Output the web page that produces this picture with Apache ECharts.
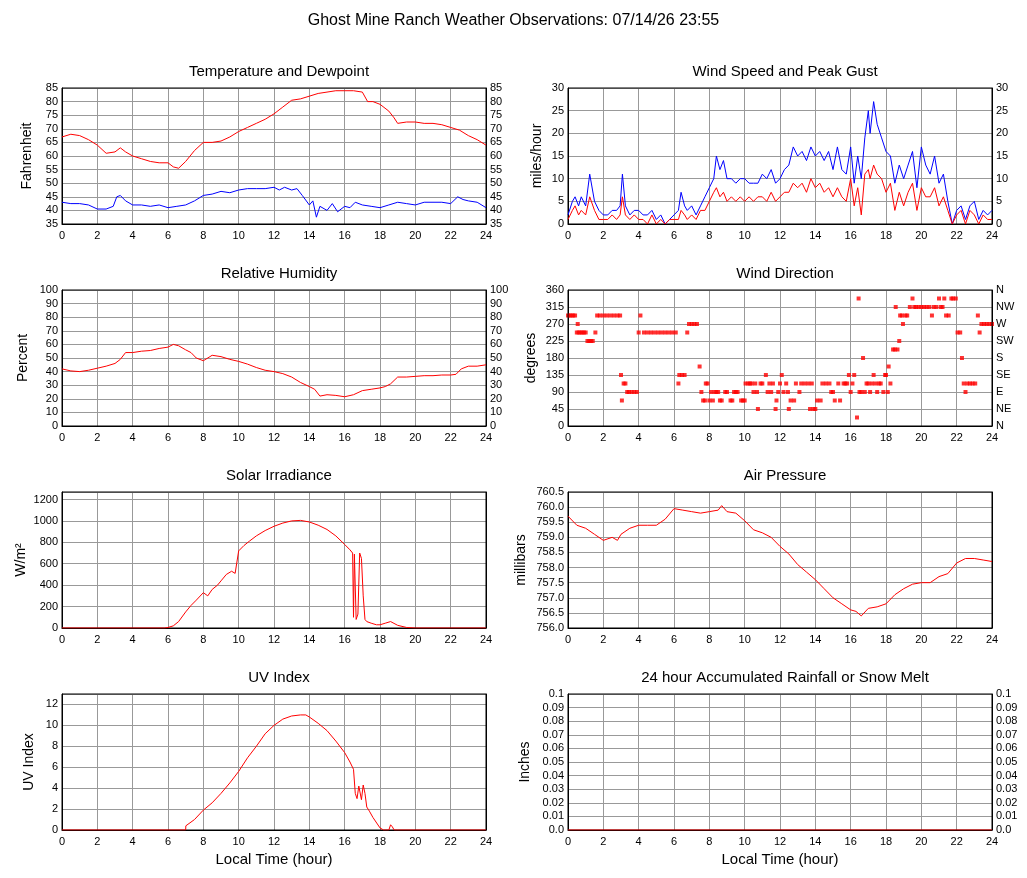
<!DOCTYPE html>
<html><head><meta charset="utf-8">
<script src="https://cdn.jsdelivr.net/npm/echarts@6/dist/echarts.min.js"></script>
<style>html,body{margin:0;background:#fff}#charts{width:1027px;height:878px}</style>
</head><body><div id="charts"></div>
<script>
// temperature / dewpoint
var tempH = [0,0.5,1,1.5,2,2.5,3,3.3,3.6,4,4.5,5,5.5,6,6.3,6.6,7,7.5,8,8.5,9,9.5,10,10.5,11,11.5,12,12.5,13,13.5,14,14.5,15,15.5,16,16.5,17,17.3,17.6,18,18.5,18.8,19,19.5,20,20.5,21,21.5,22,22.5,23,23.5,24];
var tempV = [67,68,67.5,66,64,61,61.5,63,61.5,60,59,58,57.5,57.5,56,55.5,58,62,65,65,65.5,67,69,70.5,72,73.5,75.5,78,80.5,81,82,83,83.5,84,84,84,83.5,80,80,79,76.5,74,72,72.5,72.5,72,72,71.5,70.5,69.5,67.5,66,64];
var dewH = [0,0.5,1,1.5,2,2.5,2.9,3.1,3.3,3.6,4,4.5,5,5.5,6,6.5,7,7.5,8,8.5,9,9.5,10,10.5,11,11.5,12,12.3,12.6,13,13.3,13.6,14,14.2,14.4,14.6,15,15.3,15.6,16,16.3,16.6,17,17.5,18,18.5,19,19.5,20,20.5,21,21.5,22,22.4,22.7,23,23.5,24];
var dewV = [43,42.5,42.5,42,40.5,40.5,41.5,45,45.5,43.5,42,42,41.5,42,41,41.5,42,43.5,45.5,46,47,46.5,47.5,48,48,48,48.5,47.5,48.5,47.5,48,45.5,42,43.5,37.5,41.5,40,42.5,39.5,41.5,41,43,42,41.5,41,42,43,42.5,42,43,43,43,42.5,45,44,43.5,43,41];
// relative humidity
var rhH = [0,0.5,1,1.5,2,2.5,3,3.3,3.6,4,4.5,5,5.5,6,6.3,6.6,7,7.3,7.6,8,8.5,9,9.5,10,10.5,11,11.5,12,12.5,13,13.5,14,14.3,14.6,15,15.5,16,16.5,17,17.5,18,18.3,18.6,19,19.5,20,20.5,21,21.5,22,22.3,22.6,23,23.5,24];
var rhV = [42,40.5,40,41,42.5,44,46,49,54,54,55,55.5,57,58,60,59,56,54,50,48,52,51,49,47.5,45.5,43,41,40,38.5,36,32,29,27,22,23,22.5,21.5,23,26,27,28,29,31,36,36,36.5,37,37,37.5,37.5,38,42,44,44,45];
// solar irradiance W/m2
var solH = [0,5.8,6,6.3,6.6,7,7.3,7.6,8,8.25,8.5,8.8,9,9.3,9.6,9.8,10,10.3,10.6,11,11.5,12,12.5,13,13.5,14,14.5,15,15.5,16,16.3,16.45,16.5,16.55,16.6,16.65,16.75,16.85,16.95,17.05,17.15,17.25,17.5,17.8,18,18.3,18.6,19,19.5,20,24];
var solV = [0,0,5,20,60,150,210,260,330,300,360,400,440,500,530,510,720,770,810,860,910,950,980,1000,1005,990,960,920,860,780,730,700,100,690,700,80,130,700,650,300,80,60,45,30,30,45,60,25,5,0,0];
// UV index
var uvH = [0,7,7.01,7.5,8,8.5,9,9.5,10,10.5,11,11.5,12,12.5,13,13.5,13.8,14,14.5,15,15.5,16,16.3,16.5,16.6,16.7,16.8,16.95,17.05,17.15,17.25,17.4,17.6,18,18.2,18.5,18.6,18.7,18.8,19,24];
var uvV = [0,0,0.4,1,1.9,2.6,3.5,4.5,5.6,6.9,8,9.2,10,10.6,10.9,11,11,10.8,10.2,9.5,8.5,7.4,6.5,5.8,3.5,3,4.2,2.9,4.3,3.5,2.2,1.8,1.2,0.2,0,0,0.5,0.3,0,0,0];
// air pressure millibars
var presH = [0,0.5,1,1.5,2,2.5,2.8,3,3.5,4,4.5,5,5.5,6,6.5,7,7.5,8,8.5,8.7,9,9.5,10,10.5,11,11.5,12,12.5,13,13.5,14,14.5,15,15.5,16,16.3,16.6,17,17.5,18,18.5,19,19.5,20,20.5,21,21.5,22,22.5,23,23.5,24];
var presV = [759.7,759.4,759.3,759.1,758.9,759.0,758.9,759.1,759.3,759.4,759.4,759.4,759.6,759.95,759.9,759.85,759.8,759.85,759.9,760.05,759.85,759.8,759.55,759.25,759.15,759.0,758.7,758.45,758.1,757.85,757.6,757.3,757.0,756.8,756.6,756.55,756.4,756.65,756.7,756.8,757.1,757.3,757.45,757.5,757.5,757.7,757.8,758.15,758.3,758.3,758.25,758.2];
// wind speed mph
var windH = [0,0.25,0.4,0.6,0.75,1,1.23,1.5,1.75,2,2.25,2.5,2.75,2.95,3.08,3.25,3.5,3.75,4,4.25,4.5,4.75,5,5.25,5.5,5.75,6,6.25,6.4,6.6,6.75,7,7.25,7.5,7.75,8,8.25,8.4,8.6,8.8,9,9.25,9.5,9.75,10,10.25,10.5,10.75,11,11.25,11.5,11.75,12,12.25,12.5,12.75,13,13.25,13.5,13.75,14,14.25,14.5,14.75,15,15.25,15.5,15.75,16,16.2,16.4,16.6,16.8,17,17.1,17.3,17.5,17.75,18,18.25,18.5,18.75,19,19.25,19.5,19.75,20,20.25,20.5,20.75,21,21.25,21.5,21.75,22,22.25,22.5,22.75,23,23.25,23.5,23.75,24];
var gustV = [2,5,6,4,6,4,11,5,3,2,2,3,3,4,11,4,2,3,3,2,2,3,1,2,0,1,2,3,7,4,3,4,2,4,6,8,10,15,12,14,10,10,9,10,10,9,9,9,11,10,12,9,10,12,13,17,15,16,14,17,15,16,14,16,12,17,12,11,17,9,15,10,19,25,20,27,22,19,16,15,9,13,10,13,16,8,17,13,11,15,9,11,5,0,3,4,1,4,5,1,3,2,3];
var speedV = [1,3,4,2,3,2,6,3,1,1,1,2,1,2,6,2,1,2,1,1,0,2,0,1,0,1,1,1,3,2,1,2,1,3,3,5,7,8,6,7,5,6,5,6,5,6,5,6,6,5,7,5,6,7,7,9,8,9,7,10,8,9,7,8,6,8,6,5,10,4,8,2,11,12,10,13,11,10,7,9,3,7,4,7,9,3,8,6,6,8,4,6,3,0,2,3,0,3,2,0,2,1,1];
// wind direction degrees (sampled points)
var dirH = [0,0.1,0.2,0.3,0.4,0.5,0.55,0.6,0.7,0.8,0.9,1.0,1.1,1.2,1.3,1.4,1.55,1.65,1.8,2.0,2.2,2.4,2.6,2.8,2.95,3.0,3.05,3.15,3.25,3.35,3.45,3.6,3.75,3.9,4.0,4.1,4.3,4.5,4.7,4.9,5.1,5.3,5.5,5.7,5.9,6.1,6.25,6.3,6.45,6.6,6.75,6.85,7.0,7.15,7.3,7.45,7.55,7.65,7.75,7.8,7.9,8.0,8.1,8.2,8.3,8.4,8.5,8.6,8.7,8.9,9.0,9.2,9.3,9.4,9.5,9.6,9.8,9.9,10.0,10.05,10.2,10.3,10.4,10.5,10.6,10.7,10.75,10.9,11.0,11.2,11.3,11.4,11.5,11.6,11.75,11.8,11.9,12.0,12.1,12.2,12.35,12.45,12.5,12.6,12.8,12.9,13.1,13.2,13.4,13.6,13.7,13.8,13.9,14.0,14.1,14.3,14.4,14.6,14.8,14.9,15.0,15.1,15.3,15.4,15.6,15.7,15.8,15.9,16.0,16.1,16.2,16.36,16.45,16.5,16.6,16.7,16.8,16.9,17.0,17.1,17.2,17.3,17.4,17.5,17.6,17.7,17.85,17.95,18.0,18.1,18.15,18.25,18.4,18.5,18.55,18.65,18.75,18.8,18.9,18.96,19.1,19.2,19.35,19.5,19.6,19.7,19.85,20.0,20.15,20.3,20.45,20.6,20.7,20.85,21.0,21.1,21.2,21.3,21.4,21.55,21.7,21.8,21.95,22.05,22.2,22.3,22.4,22.5,22.6,22.75,22.9,23.05,23.2,23.3,23.4,23.55,23.7,23.85,24];
var dirV = [292.5,292.5,292.5,292.5,292.5,247.5,270,247.5,247.5,247.5,247.5,247.5,225,225,225,225,247.5,292.5,292.5,292.5,292.5,292.5,292.5,292.5,292.5,135,67.5,112.5,112.5,90,90,90,90,90,247.5,292.5,247.5,247.5,247.5,247.5,247.5,247.5,247.5,247.5,247.5,247.5,112.5,135,135,135,247.5,270,270,270,270,157.5,90,67.5,67.5,112.5,112.5,67.5,90,67.5,90,90,90,67.5,67.5,90,90,67.5,67.5,90,90,90,67.5,67.5,67.5,112.5,112.5,112.5,112.5,90,112.5,90,45,112.5,112.5,135,90,112.5,90,112.5,45,67.5,90,112.5,135,90,112.5,90,45,67.5,67.5,112.5,90,112.5,112.5,112.5,45,112.5,45,45,67.5,67.5,112.5,112.5,112.5,90,90,67.5,112.5,67.5,112.5,112.5,112.5,135,90,112.5,135,22.5,337.5,90,90,180,90,112.5,112.5,90,112.5,135,112.5,90,112.5,112.5,90,135,135,90,157.5,112.5,202.5,202.5,315,202.5,225,292.5,292.5,270,292.5,292.5,315,337.5,315,315,315,315,315,315,315,292.5,315,315,337.5,315,315,337.5,292.5,292.5,337.5,337.5,337.5,247.5,247.5,180,112.5,90,112.5,112.5,112.5,112.5,292.5,247.5,270,270,270,270,270];
// rainfall inches
var rainH = [0,24];
var rainV = [0,0];

var chart = echarts.init(document.getElementById('charts'));
var font = 'Liberation Sans, Arial, sans-serif';
var lefts = [62, 568], tops = [88, 290, 492, 694], W = 424, H = 136;
var grids = [], xAxes = [], yAxes = [], series = [], titles = [];
function pairs(h, v) { return h.map(function (t, i) { return [t, v[i]]; }); }
var gridLine = { show: true, lineStyle: { color: '#999', width: 1 } };
function panel(col, row, title, yName, yOpt, rightOpt, lines, xName) {
  var gi = grids.length;
  grids.push({ left: lefts[col], top: tops[row], width: W, height: H, show: true,
    borderColor: '#000', borderWidth: 1, backgroundColor: 'transparent', z: 3 });
  titles.push({ text: title, left: lefts[col] + W / 2, top: tops[row] - 29, textAlign: 'center',
    textStyle: { fontFamily: font, fontSize: 15, fontWeight: 'normal', color: '#000' } });
  xAxes.push({ gridIndex: gi, type: 'value', min: 0, max: 24, interval: 2,
    name: xName || '', nameLocation: 'middle', nameGap: 22,
    nameTextStyle: { fontFamily: font, fontSize: 15, color: '#000' },
    axisLine: { onZero: false, lineStyle: { color: '#000' } }, axisTick: { show: false },
    axisLabel: { fontFamily: font, fontSize: 11, color: '#000', margin: 6 }, splitLine: gridLine });
  var lbl = { fontFamily: font, fontSize: 11, color: '#000', margin: 4 };
  if (yOpt.fmt) lbl.formatter = yOpt.fmt;
  var base = { gridIndex: gi, type: 'value', min: yOpt.min, max: yOpt.max, interval: yOpt.interval,
    axisTick: { show: false }, axisLine: { show: true, lineStyle: { color: '#000' } } };
  yAxes.push(Object.assign({}, base, { position: 'left', name: yName, nameLocation: 'middle', nameGap: yOpt.gap || 28,
    nameTextStyle: { fontFamily: font, fontSize: 14, color: '#000' }, splitLine: gridLine, axisLabel: lbl }));
  var yi = yAxes.length - 1;
  var rl = Object.assign({}, lbl, { show: !!rightOpt });
  if (rightOpt && rightOpt.fmt) rl.formatter = rightOpt.fmt;
  yAxes.push(Object.assign({}, base, { position: 'right', splitLine: { show: false }, axisLabel: rl }));
  lines.forEach(function (l) {
    series.push(Object.assign({ xAxisIndex: gi, yAxisIndex: yi, type: 'line', showSymbol: false, animation: false,
      lineStyle: { width: 1, color: l.color }, itemStyle: { color: l.color } }, l.s));
  });
}
var plain = function (v) { return String(v); };
panel(0, 0, 'Temperature and Dewpoint', 'Fahrenheit', { min: 35, max: 85, interval: 5 }, {},
  [{ color: '#f00', s: { data: pairs(tempH, tempV) } }, { color: '#00f', s: { data: pairs(dewH, dewV) } }]);
panel(1, 0, 'Wind Speed and Peak Gust', 'miles/hour', { min: 0, max: 30, interval: 5, gap: 24 }, {},
  [{ color: '#00f', s: { data: pairs(windH, gustV) } }, { color: '#f00', s: { data: pairs(windH, speedV) } }]);
panel(0, 1, 'Relative Humidity', 'Percent', { min: 0, max: 100, interval: 10, gap: 32 }, {},
  [{ color: '#f00', s: { data: pairs(rhH, rhV) } }]);
var compass = { 0: 'N', 45: 'NE', 90: 'E', 135: 'SE', 180: 'S', 225: 'SW', 270: 'W', 315: 'NW', 360: 'N' };
panel(1, 1, 'Wind Direction', 'degrees', { min: 0, max: 360, interval: 45, gap: 30 },
  { fmt: function (v) { return compass[v]; } },
  [{ color: '#f00', s: { type: 'scatter', symbol: 'rect', symbolSize: 4, data: pairs(dirH, dirV) } }]);
panel(0, 2, 'Solar Irradiance', 'W/m²', { min: 0, max: 1270, interval: 200, gap: 34, fmt: plain }, null,
  [{ color: '#f00', s: { data: pairs(solH, solV) } }]);
panel(1, 2, 'Air Pressure', 'millibars', { min: 756, max: 760.5, interval: 0.5, gap: 40,
  fmt: function (v) { return v.toFixed(1); } }, null,
  [{ color: '#f00', s: { data: pairs(presH, presV) } }]);
panel(0, 3, 'UV Index', 'UV Index', { min: 0, max: 13, interval: 2, gap: 26 }, null,
  [{ color: '#f00', s: { data: pairs(uvH, uvV) } }], 'Local Time (hour)');
var rainFmt = function (v) { return v === 0 ? '0.0' : String(+v.toFixed(2)); };
panel(1, 3, '24 hour Accumulated Rainfall or Snow Melt', 'Inches', { min: 0, max: 0.1, interval: 0.01, gap: 36, fmt: rainFmt },
  { fmt: rainFmt }, [{ color: '#f00', s: { data: pairs(rainH, rainV) } }], 'Local Time (hour)');
titles.unshift({ text: 'Ghost Mine Ranch Weather Observations: 07/14/26 23:55', left: 'center', top: 8,
  textStyle: { fontFamily: font, fontSize: 16, fontWeight: 'normal', color: '#000' } });
chart.setOption({ animation: false, title: titles, grid: grids, xAxis: xAxes, yAxis: yAxes, series: series });
</script></body></html>
